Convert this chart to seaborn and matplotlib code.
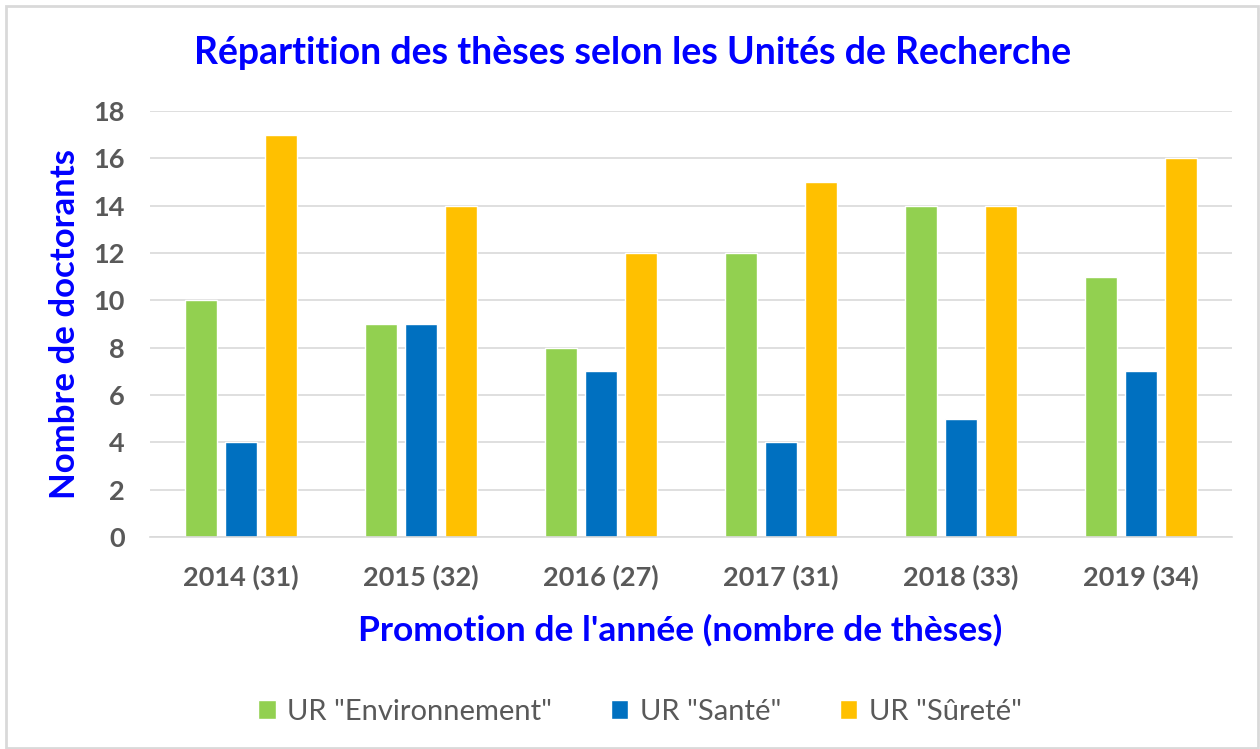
import matplotlib
matplotlib.use("Agg")
import matplotlib.pyplot as plt
import seaborn as sns
import pandas as pd
from matplotlib.patches import Rectangle

years = ["2014 (31)", "2015 (32)", "2016 (27)", "2017 (31)", "2018 (33)", "2019 (34)"]
series = ['UR "Environnement"', 'UR "Santé"', 'UR "Sûreté"']
environnement = [10, 9, 8, 12, 14, 11]
sante = [4, 9, 7, 4, 5, 7]
surete = [17, 14, 12, 15, 14, 16]
colors = ["#92D050", "#0070C0", "#FFC000"]

rows = []
for name, vals in zip(series, [environnement, sante, surete]):
    for y, v in zip(years, vals):
        rows.append({"annee": y, "serie": name, "n": v})
df = pd.DataFrame(rows)

sns.set_style("white")
plt.rcParams["font.family"] = ["Lato", "DejaVu Sans"]

fig = plt.figure(figsize=(12.6, 7.49), dpi=100)
ax = fig.add_axes([150 / 1260, 1 - 537 / 749, 1082 / 1260, (537 - 111) / 749])

sns.barplot(data=df, x="annee", y="n", hue="serie", palette=colors, saturation=1,
            width=0.667, gap=0.2, ax=ax, legend=True)

ax.set_ylim(0, 18)
ax.set_xlim(-0.505, 5.505)
ax.set_yticks(range(0, 19, 2))
ax.yaxis.grid(True, color="#d9d9d9", linewidth=1.2)
ax.set_axisbelow(True)
for s in ["top", "right", "left"]:
    ax.spines[s].set_visible(False)
ax.spines["bottom"].set_color("#d9d9d9")
ax.spines["bottom"].set_linewidth(1.2)
ax.tick_params(axis="both", length=0, labelsize=19.5, labelcolor="#595959")
ax.tick_params(axis="x", pad=20)
ax.tick_params(axis="y", pad=18)
for lab in ax.get_xticklabels() + ax.get_yticklabels():
    lab.set_fontweight("bold")

ax.set_xlabel("")
ax.set_ylabel("")
fig.text(680 / 1260, 1 - 630 / 749, "Promotion de l'année (nombre de thèses)",
         ha="center", va="center", color="#0000FF", fontsize=25.5, fontweight="bold")
fig.text(65 / 1260, 1 - 324 / 749, "Nombre de doctorants", rotation=90,
         ha="center", va="center", color="#0000FF", fontsize=25, fontweight="bold")
fig.text(633 / 1260, 1 - 53 / 749, "Répartition des thèses selon les Unités de Recherche",
         ha="center", va="center", color="#0000FF", fontsize=27, fontweight="bold")

handles, labels = ax.get_legend_handles_labels()
ax.legend_.remove()
fig.legend(handles, labels, loc="center", bbox_to_anchor=(640 / 1260, 1 - 712 / 749),
           ncol=3, frameon=False, fontsize=21, handlelength=0.6, handleheight=0.6,
           handletextpad=0.4, columnspacing=2.0, labelcolor="#595959")

fig.patches.append(Rectangle((6 / 1260, 1 / 749), 1252 / 1260, 742 / 749,
                             transform=fig.transFigure, fill=False,
                             edgecolor="#d9d9d9", linewidth=2))

fig.savefig("out.png", dpi=100)
